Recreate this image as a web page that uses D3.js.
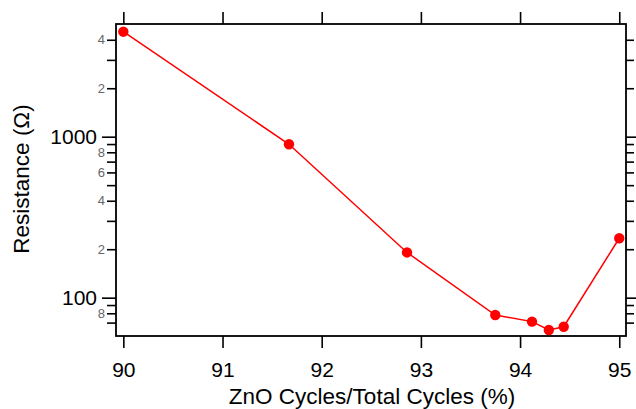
<!DOCTYPE html>
<html>
<head>
<meta charset="utf-8">
<script src="https://cdn.jsdelivr.net/npm/d3@7"></script>
<style>
  body { margin: 0; background: #fff; }
  text { font-family: "Liberation Sans", Arial, sans-serif; }
</style>
</head>
<body>
<div id="chart"></div>
<script>
// ZnO fraction (%) and measured resistance (ohm)
var zno = [90, 91.67, 92.86, 93.75, 94.12, 94.29, 94.44, 95.0]
var resistance = [4490, 897, 191, 78, 71, 63, 66, 234]

var xTicks = [90, 91, 92, 93, 94, 95]
var yMajor = [100, 1000]
var yMinor = [70, 80, 90, 200, 300, 400, 500, 600, 700, 800, 900, 2000, 3000, 4000]
var yMinorLabels = [80, 200, 400, 600, 800, 2000, 4000]

var W = 636, H = 409
var plotL = 116, plotR = 626, plotT = 24, plotB = 336

var svg = d3.select("#chart").append("svg")
  .attr("width", W)
  .attr("height", H)

var x = d3.scaleLinear()
  .domain([89.926, 95.068])
  .range([plotL, plotR])

var y = d3.scaleLog()
  .domain([57.8, 5012])
  .range([plotB, plotT])

function styleAxis(g) {
  g.select(".domain").remove()
  g.selectAll(".tick line").attr("stroke", "#000").attr("stroke-width", 1.6)
}

// bottom axis
svg.append("g")
  .attr("transform", "translate(0," + plotB + ")")
  .call(d3.axisBottom(x).tickValues(xTicks).tickSize(12).tickPadding(14).tickFormat(d3.format("d")))
  .call(styleAxis)
  .selectAll("text").attr("font-size", 21).attr("fill", "#000")

// top axis, ticks only
svg.append("g")
  .attr("transform", "translate(0," + plotT + ")")
  .call(d3.axisTop(x).tickValues(xTicks).tickSize(12).tickFormat(""))
  .call(styleAxis)

// left axis, major
svg.append("g")
  .attr("transform", "translate(" + plotL + ",0)")
  .call(d3.axisLeft(y).tickValues(yMajor).tickSize(14).tickPadding(5).tickFormat(d3.format("d")))
  .call(styleAxis)
  .selectAll("text").attr("font-size", 21).attr("fill", "#000")

// left axis, minor
svg.append("g")
  .attr("transform", "translate(" + plotL + ",0)")
  .call(d3.axisLeft(y).tickValues(yMinor).tickSize(9).tickPadding(2)
    .tickFormat(function(d) {
      return yMinorLabels.indexOf(d) >= 0 ? String(d).charAt(0) : ""
    }))
  .call(styleAxis)
  .selectAll("text").attr("font-size", 13).attr("fill", "#666")

// right axis, ticks only
svg.append("g")
  .attr("transform", "translate(" + plotR + ",0)")
  .call(d3.axisRight(y).tickValues(yMajor).tickSize(11).tickFormat(""))
  .call(styleAxis)
svg.append("g")
  .attr("transform", "translate(" + plotR + ",0)")
  .call(d3.axisRight(y).tickValues(yMinor).tickSize(8).tickFormat(""))
  .call(styleAxis)

// frame
svg.append("rect")
  .attr("x", plotL)
  .attr("y", plotT)
  .attr("width", plotR - plotL)
  .attr("height", plotB - plotT)
  .attr("fill", "none")
  .attr("stroke", "#000")
  .attr("stroke-width", 1.8)

var pts = zno.map(function(d, i) { return [d, resistance[i]] })

svg.append("path")
  .datum(pts)
  .attr("fill", "none")
  .attr("stroke", "#ff0000")
  .attr("stroke-width", 1.5)
  .attr("d", d3.line()
    .x(function(d) { return x(d[0]) })
    .y(function(d) { return y(d[1]) }))

svg.selectAll(".dot")
  .data(pts)
  .enter()
  .append("circle")
  .attr("class", "dot")
  .attr("cx", function(d) { return x(d[0]) })
  .attr("cy", function(d) { return y(d[1]) })
  .attr("r", 5.2)
  .attr("fill", "#ff0000")

// axis titles
svg.append("text")
  .attr("x", 372)
  .attr("y", 404)
  .attr("text-anchor", "middle")
  .attr("font-size", 22.5)
  .text("ZnO Cycles/Total Cycles (%)")

svg.append("text")
  .attr("transform", "translate(29,179) rotate(-90)")
  .attr("text-anchor", "middle")
  .attr("font-size", 22.5)
  .text("Resistance (\u03A9)")
</script>
</body>
</html>
